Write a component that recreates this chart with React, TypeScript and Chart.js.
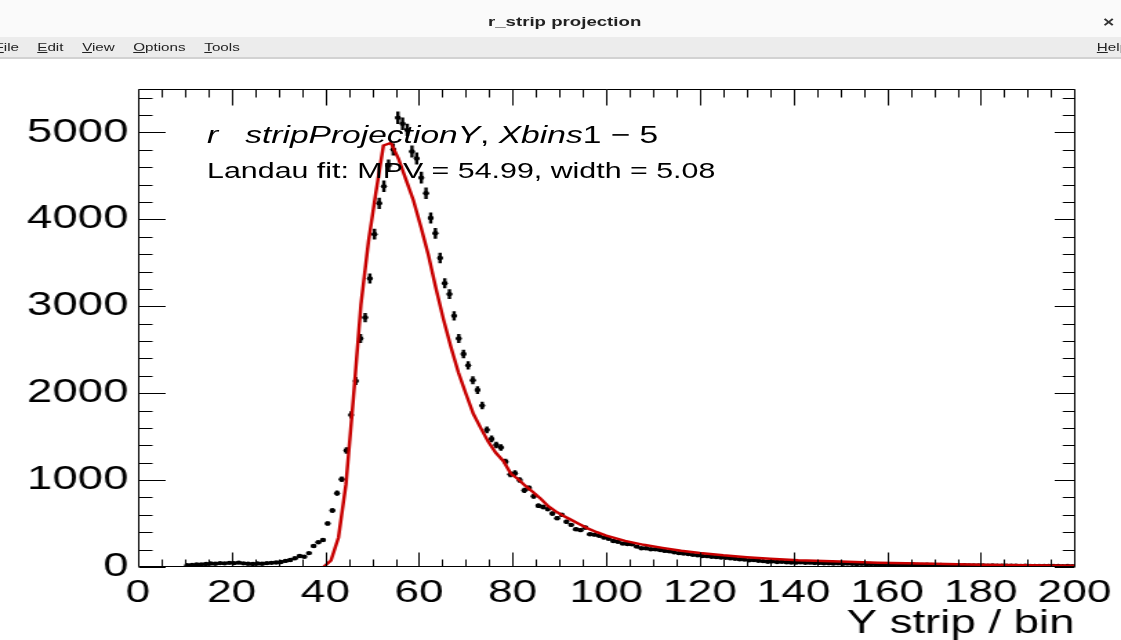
import React, { useEffect, useRef } from "react";
import { Chart, registerables } from "chart.js";

Chart.register(...registerables);

// ---- data ----
const binCenters = [
  10.5, 11.5, 12.5, 13.5, 14.5, 15.5, 16.5, 17.5, 18.5, 19.5,
  20.5, 21.5, 22.5, 23.5, 24.5, 25.5, 26.5, 27.5, 28.5, 29.5,
  30.5, 31.5, 32.5, 33.5, 34.5, 35.5, 36.5, 37.5, 38.5, 39.5,
  40.5, 41.5, 42.5, 43.5, 44.5, 45.5, 46.5, 47.5, 48.5, 49.5,
  50.5, 51.5, 52.5, 53.5, 54.5, 55.5, 56.5, 57.5, 58.5, 59.5,
  60.5, 61.5, 62.5, 63.5, 64.5, 65.5, 66.5, 67.5, 68.5, 69.5,
  70.5, 71.5, 72.5, 73.5, 74.5, 75.5, 76.5, 77.5, 78.5, 79.5,
  80.5, 81.5, 82.5, 83.5, 84.5, 85.5, 86.5, 87.5, 88.5, 89.5,
  90.5, 91.5, 92.5, 93.5, 94.5, 95.5, 96.5, 97.5, 98.5, 99.5,
  100.5, 101.5, 102.5, 103.5, 104.5, 105.5, 106.5, 107.5, 108.5, 109.5,
  110.5, 111.5, 112.5, 113.5, 114.5, 115.5, 116.5, 117.5, 118.5, 119.5,
  120.5, 121.5, 122.5, 123.5, 124.5, 125.5, 126.5, 127.5, 128.5, 129.5,
  130.5, 131.5, 132.5, 133.5, 134.5, 135.5, 136.5, 137.5, 138.5, 139.5,
  140.5, 141.5, 142.5, 143.5, 144.5, 145.5, 146.5, 147.5, 148.5, 149.5,
  150.5, 151.5, 152.5, 153.5, 154.5, 155.5, 156.5, 157.5, 158.5, 159.5,
  160.5, 161.5, 162.5, 163.5, 164.5, 165.5, 166.5, 167.5, 168.5, 169.5,
  170.5, 171.5, 172.5, 173.5, 174.5, 175.5, 176.5, 177.5, 178.5, 179.5,
  180.5, 181.5, 182.5, 183.5, 184.5, 185.5, 186.5, 187.5, 188.5, 189.5,
  190.5, 191.5, 192.5, 193.5, 194.5, 195.5, 196.5, 197.5, 198.5, 199.5,
];

const counts = [
  20, 25, 30, 28, 35, 40, 38, 45, 42, 48,
  45, 50, 42, 38, 35, 40, 38, 45, 48, 52,
  58, 70, 80, 100, 127, 118, 160, 242, 285, 310,
  500, 650, 850, 1010, 1340, 1750, 2140, 2630, 2870, 3320,
  3830, 4185, 4380, 4620, 4805, 5170, 5100, 5030, 4780, 4700,
  4480, 4300, 4015, 3840, 3555, 3265, 3140, 2890, 2630, 2450,
  2320, 2148, 2036, 1857, 1578, 1474, 1405, 1375, 1212, 1066,
  1080, 1001, 882, 909, 814, 704, 690, 666, 615, 562,
  600, 520, 485, 435, 424, 454, 377, 372, 360, 338,
  325, 300, 290, 269, 265, 262, 235, 216, 215, 204,
  205, 195, 185, 180, 170, 160, 154, 150, 140, 135,
  127, 125, 118, 115, 110, 107, 100, 95, 90, 85,
  77, 80, 72, 68, 61, 65, 58, 60, 55, 52,
  50, 55, 48, 50, 45, 47, 42, 44, 40, 42,
  38, 40, 36, 35, 37, 33, 34, 31, 32, 30,
  31, 28, 29, 27, 26, 28, 25, 24, 26, 23,
  22, 24, 21, 20, 22, 19, 20, 18, 19, 17,
  18, 16, 17, 15, 16, 15, 14, 15, 13, 14,
  13, 12, 13, 12, 11, 12, 11, 10, 11, 10,
];

const binWidth = 1;

const fitX = [
  39.6, 41.2, 42.8, 44.4, 46.0, 47.6, 49.2, 50.8, 52.4, 54.0,
  55.6, 57.2, 58.8, 60.4, 62.0, 63.6, 65.2, 66.8, 68.4, 70.0,
  71.6, 73.2, 74.8, 76.4, 78.0, 79.6, 81.2, 82.8, 84.4, 86.0,
  87.6, 89.2, 90.8, 92.4, 94.0, 96.0, 98.0, 100, 104, 108,
  112, 116, 120, 125, 130, 135, 141, 150, 158, 170, 180, 190, 200,
];
const fitY = [
  0, 75, 340, 950, 1950, 3020, 3740, 4310, 4850, 4880,
  4700, 4460, 4220, 3915, 3590, 3210, 2855, 2535, 2240, 1996,
  1763, 1598, 1440, 1314, 1220, 1075, 1010, 930, 860, 785,
  700, 640, 590, 545, 500, 445, 400, 360, 300, 255,
  220, 188, 162, 135, 113, 95, 77, 62, 50, 36, 27, 20, 15,
];

const xTicks = [0, 20, 40, 60, 80, 100, 120, 140, 160, 180, 200];
const yTicks = [0, 1000, 2000, 3000, 4000, 5000];
const xMin = 0;
const xMax = 200;
const yMin = 0;
const yMax = 5500;
const xMinorStep = 5;
const yMinorStep = 200;

const titleText = "r_strip projection";
const axisTitle = "Y strip / bin";
const fitLabel = "Landau fit: MPV = 54.99, width = 5.08";
const menuItems = ["File", "Edit", "View", "Options", "Tools"];
const menuLeft = [-4, 27, 59.5, 96.5, 148];

// ---- layout (canvas drawn narrow and stretched horizontally like the screenshot) ----
const W = 812;
const H = 640;
const S = 1121 / W;

const rootPlugin = {
  id: "rootStyle",
  beforeDatasetsDraw(chart: any) {
    const { ctx, chartArea: a, scales } = chart;
    const xs = scales.x;
    const ys = scales.y;
    ctx.save();
    ctx.beginPath();
    ctx.rect(a.left, a.top, a.right - a.left, a.bottom - a.top);
    ctx.clip();
    ctx.strokeStyle = "#000";
    ctx.lineWidth = 2.4;
    ctx.beginPath();
    binCenters.forEach((xc, i) => {
      const v = counts[i];
      const err = Math.sqrt(v);
      const px = xs.getPixelForValue(xc);
      const py = ys.getPixelForValue(v);
      ctx.moveTo(xs.getPixelForValue(xc - binWidth / 2), py);
      ctx.lineTo(xs.getPixelForValue(xc + binWidth / 2), py);
      ctx.moveTo(px, ys.getPixelForValue(v - err));
      ctx.lineTo(px, ys.getPixelForValue(v + err));
    });
    ctx.stroke();
    ctx.restore();
  },
  afterDatasetsDraw(chart: any) {
    const { ctx, chartArea: a, scales } = chart;
    const xs = scales.x;
    const ys = scales.y;
    ctx.save();
    ctx.strokeStyle = "#000";
    ctx.lineWidth = 1;
    ctx.beginPath();
    const L = Math.round(a.left) + 0.5;
    const R = Math.round(a.right) + 0.5;
    const T = Math.round(a.top) + 0.5;
    const B = Math.round(a.bottom) - 0.5;
    ctx.rect(L, T, R - L, B - T);
    for (let v = xMin; v <= xMax; v += xMinorStep) {
      const major = xTicks.includes(v);
      const px = Math.round(xs.getPixelForValue(v)) + 0.5;
      ctx.moveTo(px, B);
      ctx.lineTo(px, B - (major ? 14 : 7));
      ctx.moveTo(px, T);
      ctx.lineTo(px, T + (major ? 16 : 8));
    }
    for (let v = yMin; v <= yMax; v += yMinorStep) {
      const major = yTicks.includes(v);
      const py = Math.round(ys.getPixelForValue(v)) + 0.5;
      ctx.moveTo(L, py);
      ctx.lineTo(L + (major ? 19.5 : 10), py);
      ctx.moveTo(R, py);
      ctx.lineTo(R - (major ? 14.5 : 8.7), py);
    }
    ctx.stroke();
    ctx.restore();
  },
};

const sans = "'Liberation Sans', Arial, Helvetica, sans-serif";

export default function App() {
  const canvasRef = useRef<HTMLCanvasElement | null>(null);

  useEffect(() => {
    const canvas = canvasRef.current;
    if (!canvas) return;
    const chart = new Chart(canvas, {
      type: "scatter",
      data: {
        datasets: [
          {
            label: "Landau fit",
            data: fitX.map((x, i) => ({ x, y: fitY[i] })),
            showLine: true,
            borderColor: "#c80000",
            borderWidth: 2.5,
            pointRadius: 0,
            tension: 0,
            fill: false,
          },
          {
            label: "r_stripProjectionY",
            data: binCenters.map((x, i) => ({ x, y: counts[i] })),
            showLine: false,
            pointRadius: 2.2,
            pointBackgroundColor: "#000",
            pointBorderColor: "#000",
            pointBorderWidth: 0,
          },
        ],
      },
      options: {
        responsive: false,
        animation: false,
        devicePixelRatio: 1,
        layout: { padding: { left: 0, right: 33, top: 89, bottom: 0 } },
        plugins: {
          legend: { display: false },
          tooltip: { enabled: false },
          title: { display: false },
        },
        scales: {
          x: {
            type: "linear",
            min: xMin,
            max: xMax,
            afterBuildTicks: (s: any) => {
              s.ticks = xTicks.map((v) => ({ value: v }));
            },
            afterFit: (s: any) => {
              s.height = 73;
            },
            ticks: {
              autoSkip: false,
              maxRotation: 0,
              minRotation: 0,
              padding: 7,
              color: "#000",
              font: { family: sans, size: 32 },
              callback: (v: any) => String(v),
            },
            grid: { display: false, drawTicks: false },
            border: { display: false },
            title: {
              display: true,
              text: axisTitle,
              align: "end",
              color: "#000",
              font: { family: sans, size: 33, lineHeight: 1 },
              padding: 0,
            },
          },
          y: {
            type: "linear",
            min: yMin,
            max: yMax,
            afterBuildTicks: (s: any) => {
              s.ticks = yTicks.map((v) => ({ value: v }));
            },
            afterFit: (s: any) => {
              s.width = 100;
            },
            ticks: {
              padding: 7,
              color: "#000",
              font: { family: sans, size: 33 },
              callback: (v: any) => String(v),
            },
            grid: { display: false, drawTicks: false },
            border: { display: false },
          },
        },
      },
      plugins: [rootPlugin],
    });
    return () => chart.destroy();
  }, []);

  return (
    <div
      style={{
        position: "absolute",
        left: 0,
        top: 0,
        width: 1121,
        height: 640,
        overflow: "hidden",
        background: "#fff",
      }}
    >
      <div
        style={{
          position: "absolute",
          left: 0,
          top: 0,
          width: W,
          height: H,
          transform: `scaleX(${S})`,
          transformOrigin: "0 0",
        }}
      >
        <canvas
          ref={canvasRef}
          width={W}
          height={H}
          style={{ position: "absolute", left: 0, top: 0, width: W, height: H }}
        />
        {/* window title bar */}
        <div
          style={{
            position: "absolute",
            left: 0,
            top: 0,
            width: W,
            height: 37,
            background: "#fafafa",
          }}
        />
        <div
          style={{
            position: "absolute",
            left: 0,
            top: 14,
            width: 818,
            textAlign: "center",
            fontFamily: sans,
            fontWeight: "bold",
            fontSize: 13.5,
            lineHeight: "16px",
            color: "#222",
          }}
        >
          {titleText}
        </div>
        <div
          style={{
            position: "absolute",
            left: 799,
            top: 13,
            fontFamily: sans,
            fontWeight: "bold",
            fontSize: 14,
            lineHeight: "18px",
            color: "#333",
          }}
        >
          ×
        </div>
        {/* menu bar */}
        <div
          style={{
            position: "absolute",
            left: 0,
            top: 37,
            width: W,
            height: 20,
            background: "#ececec",
            borderBottom: "2px solid #d2d2d2",
          }}
        />
        {menuItems.map((m, i) => (
          <div
            key={m}
            style={{
              position: "absolute",
              left: menuLeft[i],
              top: 37,
              height: 20,
              lineHeight: "20px",
              fontSize: 11,
              fontFamily: sans,
              color: "#222",
              whiteSpace: "nowrap",
            }}
          >
            <u>{m[0]}</u>
            {m.slice(1)}
          </div>
        ))}
        <div
          style={{
            position: "absolute",
            left: 794.5,
            top: 37,
            height: 20,
            lineHeight: "20px",
            fontSize: 11,
            fontFamily: sans,
            color: "#222",
            whiteSpace: "nowrap",
          }}
        >
          <u>H</u>elp
        </div>
        {/* in-pad text */}
        <div
          style={{
            position: "absolute",
            left: 150,
            top: 122.7,
            fontFamily: sans,
            fontSize: 24.3,
            lineHeight: "24.3px",
            color: "#000",
            whiteSpace: "pre",
          }}
        >
          <i>r</i>
          <span style={{ display: "inline-block", width: 19.5 }} />
          <i>stripProjectionY</i>, <i>Xbins</i>1 − 5
        </div>
        <div
          style={{
            position: "absolute",
            left: 150,
            top: 159.7,
            fontFamily: sans,
            fontSize: 22,
            lineHeight: "22px",
            color: "#000",
            whiteSpace: "pre",
          }}
        >
          {fitLabel}
        </div>
      </div>
    </div>
  );
}
